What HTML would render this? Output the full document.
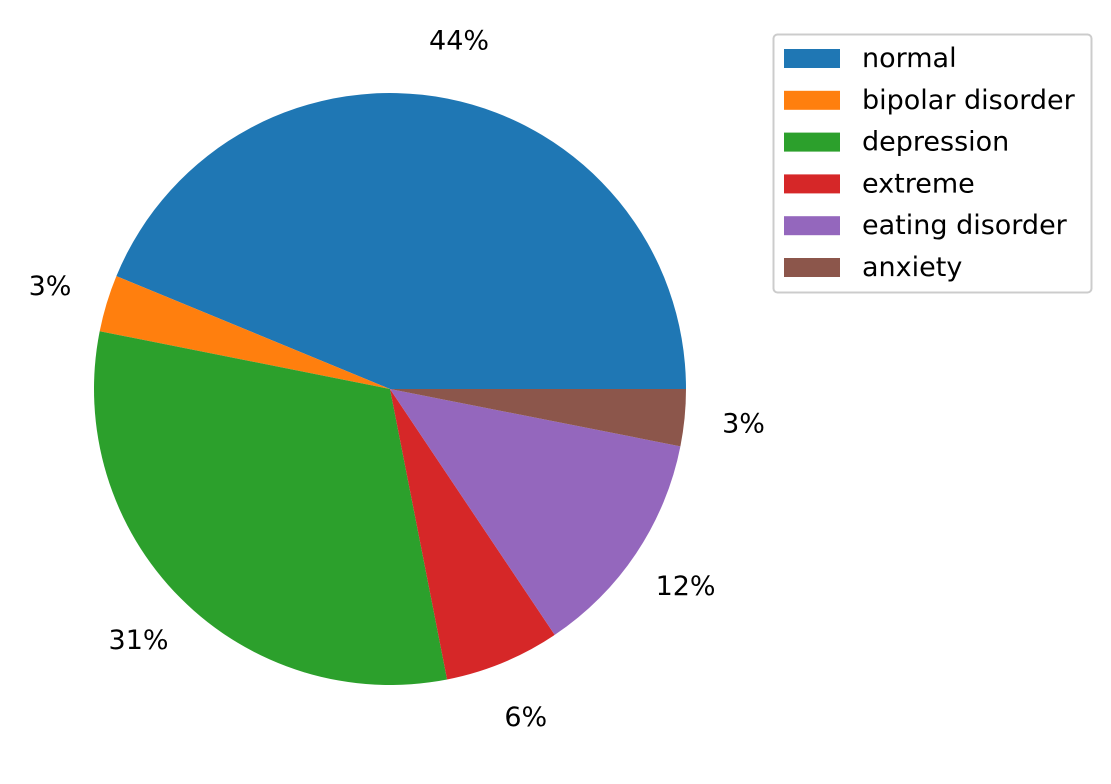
<!DOCTYPE html>
<html><head><meta charset="utf-8"><style>
body{margin:0;background:#fff;}
svg text{font-family:"DejaVu Sans","Liberation Sans",sans-serif;font-size:27px;fill:#000;}
</style></head><body>
<svg id="chart" width="1111" height="779" xmlns="http://www.w3.org/2000/svg"></svg>
<script>
const categories=["normal","bipolar disorder","depression","extreme","eating disorder","anxiety"];
const values=[43.75,3.1,31.2,6.3,12.5,3.1];
const labels=["44%","3%","31%","6%","12%","3%"];
const colors=["#1f77b4","#ff7f0e","#2ca02c","#d62728","#9467bd","#8c564b"];
const svg=document.getElementById('chart');
const NS="http://www.w3.org/2000/svg";
const cx=390,cy=389,R=296;
const total=values.reduce((a,b)=>a+b,0);
function pt(a,r){return [cx+r*Math.cos(a),cy-r*Math.sin(a)];}
let start=0;
values.forEach((v,i)=>{
  const sweep=v/total*2*Math.PI,end=start+sweep;
  const p1=pt(start,R),p2=pt(end,R);
  const path=document.createElementNS(NS,'path');
  path.setAttribute('d',`M${cx},${cy} L${p1[0]},${p1[1]} A${R},${R} 0 ${sweep>Math.PI?1:0} 0 ${p2[0]},${p2[1]} Z`);
  path.setAttribute('fill',colors[i]);
  
  
  svg.appendChild(path);
  const m=(start+end)/2,lp=pt(m,R*1.2);
  const t=document.createElementNS(NS,'text');
  t.setAttribute('x',lp[0]);t.setAttribute('y',lp[1]+9);
  t.setAttribute('text-anchor','middle');
  t.textContent=labels[i];
  
  
  svg.appendChild(t);
  start=end;
});
const lg=document.createElementNS(NS,'g');


svg.appendChild(lg);
const box=document.createElementNS(NS,'rect');
box.setAttribute('x',773.5);box.setAttribute('y',34.5);box.setAttribute('width',318);box.setAttribute('height',258);
box.setAttribute('rx',4);box.setAttribute('fill','#fff');box.setAttribute('stroke','#ccc');box.setAttribute('stroke-width',2);


lg.appendChild(box);
categories.forEach((c,i)=>{
  const y=58+i*41.8;
  const r=document.createElementNS(NS,'rect');
  r.setAttribute('x',784);r.setAttribute('y',y-9);r.setAttribute('width',56);r.setAttribute('height',19);
  r.setAttribute('fill',colors[i]);
  
  
  lg.appendChild(r);
  const t=document.createElementNS(NS,'text');
  t.setAttribute('x',862);t.setAttribute('y',y+9);
  t.textContent=c;
  
  
  lg.appendChild(t);
});
</script>
</body></html>
